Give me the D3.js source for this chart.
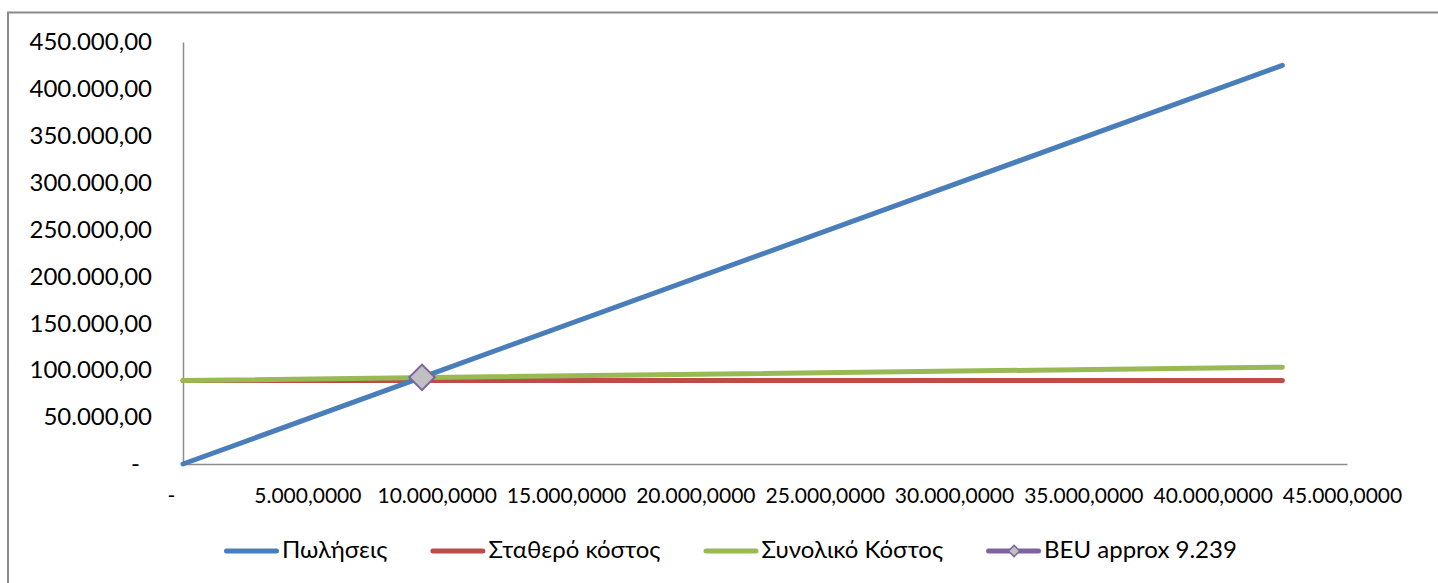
<!DOCTYPE html>
<html>
<head>
<meta charset="utf-8">
<script src="https://cdn.jsdelivr.net/npm/d3@7"></script>
<style>
  body { margin: 0; background: #fff; }
  svg { display: block; }
  text { font-family: Lato, "Noto Sans", sans-serif; fill: #000; }
</style>
</head>
<body>
<svg id="chart" width="1438" height="583"></svg>
<script>
// Break-even analysis: sales vs. fixed and total cost by units sold
const units     = [0, 42500];
const sales     = [0, 425000];
const fixedCost = [89000, 89000];
const totalCost = [89000, 103300];
const beuUnits  = [9239];
const beuValue  = [92390];

const xTicks = [0, 5000, 10000, 15000, 20000, 25000, 30000, 35000, 40000, 45000];
const yTicks = [0, 50000, 100000, 150000, 200000, 250000, 300000, 350000, 400000, 450000];
const seriesNames  = ["Πωλήσεις", "Σταθερό κόστος", "Συνολικό Κόστος", "BEU approx 9.239"];
const seriesColors = ["#4a7ebb", "#be4b48", "#98b954", "#7f63a1"];

const locale = d3.formatLocale({ decimal: ",", thousands: ".", grouping: [3], currency: ["", ""] });
const fmtY = v => v === 0 ? "-" : locale.format(",.2f")(v);
const fmtX = v => v === 0 ? "-" : locale.format(",.4f")(v);

const svg = d3.select("#chart");

// outer chart-area frame
svg.append("rect")
  .attr("x", 8).attr("y", 12.5)
  .attr("width", 1500).attr("height", 700)
  .attr("fill", "none").attr("stroke", "#8a8a8a").attr("stroke-width", 2);

const x = d3.scaleLinear().domain([0, 45000]).range([183, 1347]);
const y = d3.scaleLinear().domain([0, 450000]).range([464, 42]);

// y axis
const gy = svg.append("g").attr("transform", `translate(${x(0)},0)`)
  .call(d3.axisLeft(y).tickValues(yTicks).tickFormat(fmtY).tickSize(0).tickPadding(31));
gy.select(".domain").attr("stroke", "#8c8c8c").attr("stroke-width", 1.5);
gy.selectAll("text").attr("font-size", 24).attr("font-family", null)
  .attr("dx", d => d === 0 ? -12 : 0);

// x axis
const gx = svg.append("g").attr("transform", `translate(0,${y(0)})`)
  .call(d3.axisBottom(x).tickValues(xTicks).tickFormat(fmtX).tickSize(0).tickPadding(24));
gx.select(".domain").attr("stroke", "#8c8c8c").attr("stroke-width", 1.5);
gx.selectAll("text").attr("font-size", 21).attr("font-family", null)
  .attr("dx", d => d === 0 ? -12 : -5);

// series lines
const line = d3.line().x(d => x(d[0])).y(d => y(d[1]));
const seriesData = [sales, fixedCost, totalCost];
// draw order: fixed, total, then sales on top
[1, 2, 0].forEach(i => {
  svg.append("path")
    .datum(units.map((u, k) => [u, seriesData[i][k]]))
    .attr("d", line)
    .attr("fill", "none")
    .attr("stroke", seriesColors[i])
    .attr("stroke-width", 5)
    .attr("stroke-linecap", "round");
});

// break-even marker
svg.selectAll(".beu").data(beuUnits.map((u, k) => [u, beuValue[k]])).join("path")
  .attr("class", "beu")
  .attr("transform", d => `translate(${x(d[0])},${y(d[1])}) rotate(45)`)
  .attr("d", d3.symbol().type(d3.symbolSquare).size(18 * 18)())
  .attr("fill", "#c0c0c0")
  .attr("stroke", seriesColors[3])
  .attr("stroke-width", 2);

// legend, laid out left to right
const legend = svg.append("g").attr("transform", "translate(224,551)");
let cursor = 0;
seriesNames.forEach((name, i) => {
  const g = legend.append("g").attr("transform", `translate(${cursor},0)`);
  g.append("line")
    .attr("x1", 2.5).attr("x2", 52.5).attr("y1", 0).attr("y2", 0)
    .attr("stroke", seriesColors[i]).attr("stroke-width", 5).attr("stroke-linecap", "round");
  if (i === 3) {
    g.append("path")
      .attr("transform", "translate(28,0) rotate(45)")
      .attr("d", d3.symbol().type(d3.symbolSquare).size(8 * 8)())
      .attr("fill", "#c0c0c0").attr("stroke", seriesColors[3]).attr("stroke-width", 1.5);
  }
  const t = g.append("text").attr("x", 58).attr("y", 6.5).attr("font-size", 24).text(name);
  cursor += 58 + t.node().getComputedTextLength() + 43;
});
</script>
</body>
</html>
